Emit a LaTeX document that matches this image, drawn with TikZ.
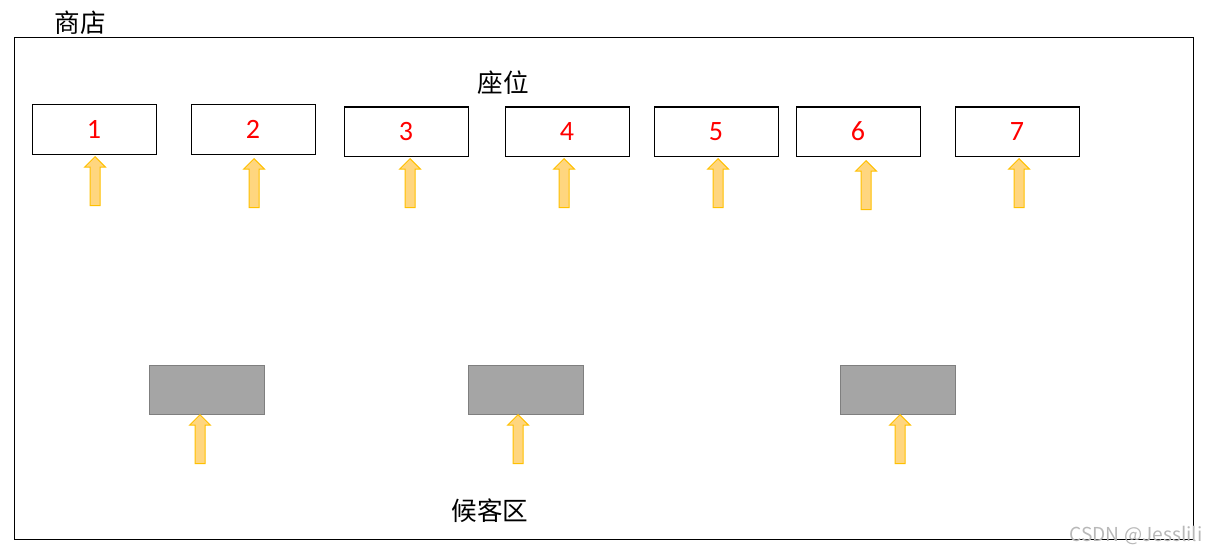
\documentclass[tikz,border=0pt]{standalone}
\usepackage{fontspec}
\setmainfont{Carlito}
\newfontfamily\cjk{Noto Sans CJK SC}
\usetikzlibrary{shapes.arrows}
\definecolor{cInk}{HTML}{000000}
\definecolor{cSeat}{HTML}{ff0000}
\definecolor{cWait}{HTML}{a5a5a5}
\definecolor{cWaitLine}{HTML}{7f7f7f}
\definecolor{cArrow}{HTML}{ffd67f}
\definecolor{cArrowLine}{HTML}{ffc000}
\definecolor{cMark}{HTML}{b8b8b8}
\tikzset{
  frame/.style={draw=cInk, line width=0.5pt},
  seat/.style={draw=cInk, line width=0.5pt, minimum width=62pt, minimum height=24.5pt,
      inner sep=0pt, text=cSeat, font=\fontsize{14}{14}\selectfont},
  waitbox/.style={draw=cWaitLine, line width=0.5pt, fill=cWait,
      minimum width=57.5pt, minimum height=24.5pt, inner sep=0pt},
  uparrow/.style={single arrow, rotate=90, anchor=tip, draw=cArrowLine, fill=cArrow,
      line width=0.5pt, minimum height=24.5pt, inner xsep=0pt, inner ysep=2.25pt,
      single arrow head extend=2.75pt, single arrow tip angle=90},
  label/.style={font=\cjk\fontsize{12.8}{12.8}\selectfont, text=cInk, inner sep=0pt},
}

\begin{document}
\begin{tikzpicture}[x=0.5pt, y=-0.5pt]
\useasboundingbox (0,0) rectangle (1208,556);

% ===================== shop =====================
\draw[frame] (14,38) rectangle (1193,539);
\node[label] (shop) at (80,23) {商店};
\node[label] (seats) at (503,83) {座位};
\node[label] (waiting) at (490,511) {候客区};

% ===================== seats =====================
\node[seat] (s1) at (94,129.5) {1};
\node[seat] (s2) at (253,129.5) {2};
\node[seat] (s3) at (406,131.5) {3};
\node[seat] (s4) at (567,131.5) {4};
\node[seat] (s5) at (716,131.5) {5};
\node[seat] (s6) at (858,131.5) {6};
\node[seat] (s7) at (1017,131.5) {7};

\node[uparrow] (a1) at (95,156) {};
\node[uparrow] (a2) at (254,158) {};
\node[uparrow] (a3) at (410,158) {};
\node[uparrow] (a4) at (564,158) {};
\node[uparrow] (a5) at (718,158) {};
\node[uparrow] (a6) at (866,160) {};
\node[uparrow] (a7) at (1019,158) {};

% ===================== waiting area =====================
\node[waitbox] (w1) at (206.5,389.5) {};
\node[waitbox] (w2) at (525.5,389.5) {};
\node[waitbox] (w3) at (897.5,389.5) {};

\node[uparrow] (b1) at (200,414) {};
\node[uparrow] (b2) at (518,414) {};
\node[uparrow] (b3) at (900,414) {};

\node[font=\cjk\fontsize{9.6}{9.6}\selectfont, text=cMark, anchor=east, inner sep=0pt] (mark) at (1203,536) {CSDN @Jesslili};

\end{tikzpicture}
\end{document}
